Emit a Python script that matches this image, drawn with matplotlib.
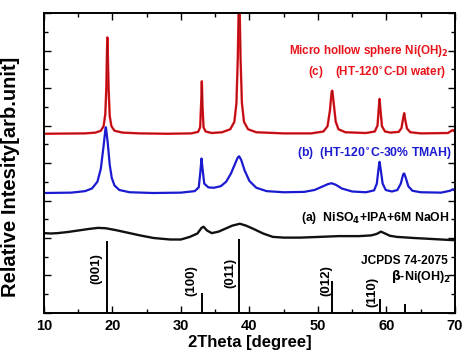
import matplotlib
matplotlib.use('Agg')
import matplotlib.pyplot as plt
from matplotlib.ticker import MultipleLocator

plt.rcParams['font.family'] = ['Liberation Sans', 'DejaVu Sans']
plt.rcParams['font.weight'] = 'bold'
plt.rcParams['mathtext.default'] = 'bf'

# (c) micro hollow sphere, red
x_c = [10, 16, 17.5, 18.3, 18.7, 18.95, 19.1, 19.2, 19.25, 19.32, 19.45, 19.6, 19.85, 20.3,
       21.5, 24, 28, 31.5, 32.5, 32.8, 32.95, 33.05, 33.15, 33.3, 33.6, 34.5, 36, 37.2,
       37.8, 38.1, 38.3, 38.45, 38.55, 38.7, 38.9, 39.2, 39.8, 41, 45, 49, 50.8, 51.4,
       51.75, 52.0, 52.1, 52.3, 52.6, 53, 54, 57, 58.3, 58.7, 58.9, 59.0, 59.12, 59.35,
       59.8, 60.1, 60.6, 61.8, 62.2, 62.45, 62.6, 62.75, 63.0, 63.5, 65, 69, 69.5, 69.7, 70]
y_c = [4.78, 4.79, 4.81, 4.86, 4.98, 5.3, 6.0, 7.0, 7.35, 6.9, 5.9, 5.25, 4.98, 4.86,
       4.81, 4.79, 4.78, 4.79, 4.83, 4.95, 5.6, 6.18, 5.5, 4.95, 4.84, 4.8, 4.82, 4.9,
       5.1, 5.6, 6.8, 8.4, 8.4, 6.8, 5.6, 5.1, 4.9, 4.82, 4.79, 4.79, 4.84, 4.98,
       5.4, 5.9, 5.93, 5.6, 5.1, 4.9, 4.82, 4.8, 4.84, 5.0, 5.5, 5.71, 5.45, 4.98,
       4.84, 4.83, 4.81, 4.83, 4.93, 5.2, 5.33, 5.15, 4.92, 4.82, 4.79, 4.8, 4.86, 4.88, 4.83]

# (b) HT-120C-30% TMAH, blue
x_b = [10, 14, 16, 17, 17.8, 18.3, 18.7, 19.0, 19.05, 19.3, 19.6, 19.9, 20.3, 21, 22.5,
       26, 30, 32, 32.6, 32.85, 33.0, 33.15, 33.4, 34.0, 34.8, 35.8, 36.6, 37.3, 37.9,
       38.3, 38.5, 38.8, 39.3, 40.0, 41, 42.5, 45, 48, 49.5, 50.5, 51.5, 52.0, 52.6,
       53.5, 55, 57, 58.2, 58.6, 58.85, 59.0, 59.15, 59.45, 59.9, 60.8, 61.6, 62.1,
       62.45, 62.6, 62.8, 63.2, 63.8, 65, 68, 69.3, 69.7, 70]
y_b = [3.2, 3.21, 3.25, 3.32, 3.5, 3.85, 4.45, 4.95, 4.95, 4.55, 3.95, 3.6, 3.4, 3.28, 3.22,
       3.2, 3.21, 3.25, 3.35, 3.8, 4.12, 3.85, 3.45, 3.35, 3.34, 3.38, 3.5, 3.72, 3.98,
       4.15, 4.18, 4.08, 3.8, 3.52, 3.34, 3.25, 3.22, 3.23, 3.28, 3.36, 3.44, 3.46, 3.42,
       3.32, 3.24, 3.22, 3.27, 3.45, 3.85, 4.03, 3.85, 3.45, 3.28, 3.24, 3.28, 3.45,
       3.7, 3.72, 3.62, 3.38, 3.26, 3.22, 3.21, 3.26, 3.3, 3.26]

# (a) NiSO4+IPA+6M NaOH, black
x_a = [10, 11, 12, 13.5, 15, 16.5, 17.9, 19, 20.5, 22, 24, 26, 28.4, 30, 31.3, 32.4, 33.0,
       33.3, 33.8, 34.5, 35.5, 36.5, 37.5, 38.6, 39.5, 40.5, 42, 43.4, 45, 47.4, 50.3,
       53, 56, 57.8, 58.6, 59.2, 59.8, 60.5, 61.5, 64, 67, 70]
y_a = [2.13, 2.12, 2.13, 2.16, 2.2, 2.24, 2.27, 2.26, 2.21, 2.15, 2.07, 2.0, 1.96, 1.96, 2.03,
       2.12, 2.27, 2.3, 2.2, 2.13, 2.17, 2.25, 2.33, 2.38, 2.33, 2.25, 2.12, 2.03, 2.01,
       2.01, 2.03, 2.05, 2.05, 2.07, 2.11, 2.17, 2.12, 2.06, 2.03, 2.0, 1.97, 1.94]

# JCPDS 74-2075 reference lines
ref_pos = [19.26, 33.07, 38.54, 52.1, 59.05, 62.73]
ref_int = [1.92, 0.54, 1.96, 0.84, 0.36, 0.23]
hkl_labels = ['(001)', '(100)', '(011)', '(012)', '(110)']
hkl_x = [17.6, 31.5, 37.2, 51.3, 58.0]
hkl_y = [1.18, 0.87, 1.07, 0.86, 0.55]

fig = plt.figure(figsize=(4.68, 3.62), dpi=100)
ax = fig.add_axes([0.094, 0.1354, 0.878, 0.8286])

ax.plot(x_c, y_c, color='#e8141c', lw=1.7)
ax.plot(x_c, y_c, color='#601010', lw=0.5, alpha=0.7)
ax.plot(x_b, y_b, color='#1a1ad0', lw=1.6)
ax.plot(x_a, y_a, color='#111111', lw=1.7)
ax.vlines(ref_pos, 0, ref_int, color='black', lw=1.4)

for lab, hx, hy in zip(hkl_labels, hkl_x, hkl_y):
    ax.text(hx, hy, lab, rotation=90, ha='center', va='center', fontsize=9.5)

ax.text(69.0, 7.0, 'Micro hollow sphere Ni(OH)$_2$', color='#e8141c', ha='right',
        va='center', fontsize=8.4)
ax.text(68.8, 6.39, '(c)    (HT-120$^{\\circ}$C-DI water)', color='#e8141c', ha='right',
        va='center', fontsize=8.4)
ax.text(69.5, 4.23, '(b)  (HT-120$^{\\circ}$C-30% TMAH)', color='#1a1ad0', ha='right',
        va='center', fontsize=8.8)
ax.text(69.3, 2.53, '(a)  NiSO$_4$+IPA+6M NaOH', color='black', ha='right',
        va='center', fontsize=8.8)
ax.text(69.0, 1.38, 'JCPDS 74-2075', ha='right', va='center', fontsize=8.6)
ax.text(69.4, 0.98, '$\\beta$-Ni(OH)$_2$', ha='right', va='center', fontsize=9)

ax.set_xlim(10, 70)
ax.set_ylim(0, 8)
ax.xaxis.set_major_locator(MultipleLocator(10))
ax.xaxis.set_minor_locator(MultipleLocator(5))
ax.yaxis.set_major_locator(MultipleLocator(1))
ax.yaxis.set_minor_locator(MultipleLocator(0.5))
ax.tick_params(which='both', direction='in', top=True, right=True, width=1)
ax.tick_params(which='major', length=5)
ax.tick_params(which='minor', length=3)
ax.tick_params(axis='x', labelsize=10.5, pad=4)
ax.set_yticklabels([])
for sp in ax.spines.values():
    sp.set_linewidth(1.4)

ax.set_xlabel('2Theta [degree]', fontsize=12, fontweight='bold', labelpad=2)
ax.set_ylabel('Relative Intesity[arb.unit]', fontsize=14.5, fontweight='bold')
ax.yaxis.set_label_coords(-0.058, 0.453)

fig.savefig('out.png', dpi=100)
